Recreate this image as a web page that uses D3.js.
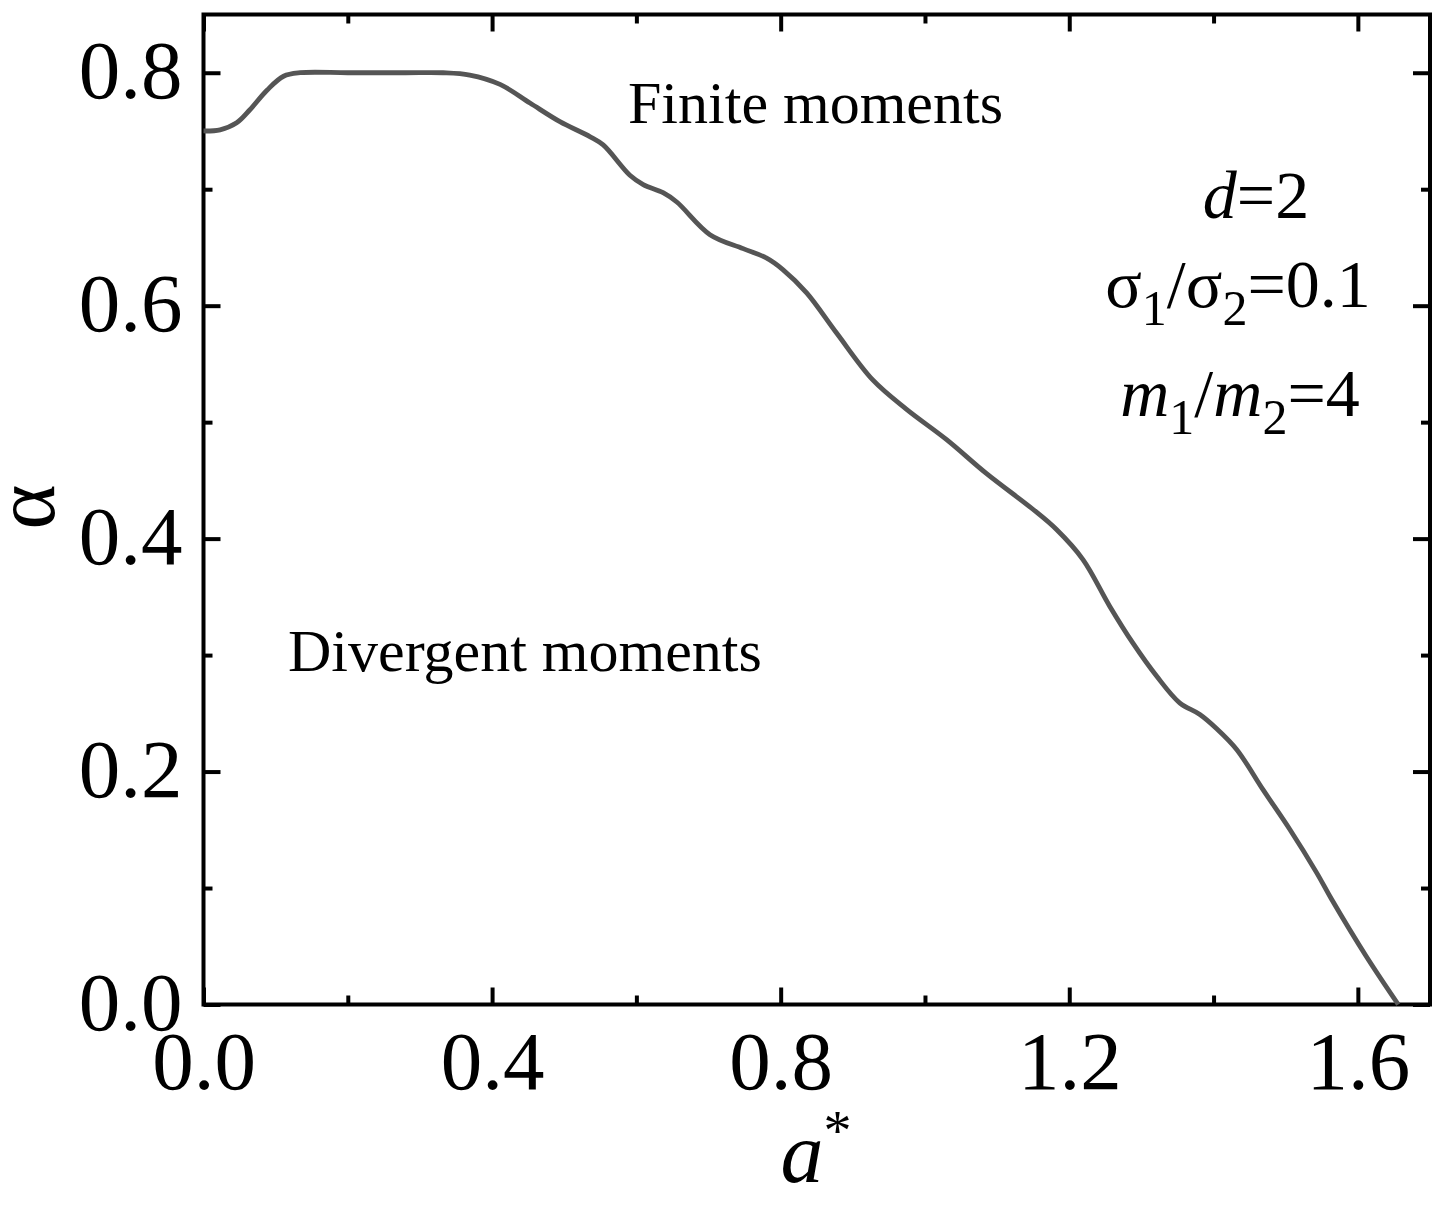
<!DOCTYPE html>
<html>
<head>
<meta charset="utf-8">
<script src="https://cdn.jsdelivr.net/npm/d3@7"></script>
<style>
  body { margin: 0; background: #fff; }
  svg { display: block; font-family: "Liberation Serif", "Times New Roman", serif; }
</style>
</head>
<body>
<svg id="chart"></svg>
<script>
// boundary curve alpha(a*)
const aStar = [0.000, 0.023, 0.046, 0.064, 0.088, 0.111, 0.134, 0.200, 0.280, 0.332,
               0.369, 0.411, 0.4525, 0.494, 0.536, 0.554, 0.591, 0.6095, 0.637, 0.656,
               0.702, 0.748, 0.780, 0.803, 0.836, 0.8775, 0.928, 0.9745, 1.030, 1.085,
               1.150, 1.182, 1.219, 1.256, 1.2885, 1.321, 1.353, 1.381, 1.404, 1.432,
               1.469, 1.506, 1.543, 1.563, 1.612, 1.656]
const alpha = [0.750, 0.751, 0.757, 0.768, 0.785, 0.797, 0.800, 0.800, 0.800, 0.800,
               0.798, 0.790, 0.774, 0.758, 0.745, 0.738, 0.712, 0.704, 0.697, 0.689,
               0.661, 0.649, 0.641, 0.631, 0.611, 0.5765, 0.536, 0.511, 0.485, 0.456,
               0.425, 0.408, 0.382, 0.342, 0.310, 0.282, 0.259, 0.249, 0.237, 0.219,
               0.184, 0.150, 0.113, 0.091, 0.041, 0.000]

const xMajor = [0, 0.4, 0.8, 1.2, 1.6]
const xMinor = [0.2, 0.6, 1.0, 1.4]
const yMajor = [0, 0.2, 0.4, 0.6, 0.8]
const yMinor = [0.1, 0.3, 0.5, 0.7]

const W = 1446, H = 1209
const pLeft = 203.5, pRight = 1430, pTop = 14.5, pBottom = 1004.5

const svg = d3.select("#chart").attr("width", W).attr("height", H)

const x = d3.scaleLinear().domain([0, 1.7]).range([pLeft, pRight])
const y = d3.scaleLinear().domain([0, 0.85]).range([pBottom, pTop])

const fmt = d3.format(".1f")

function tickStyle(g, size){
  g.select(".domain").remove()
  g.selectAll(".tick line").attr("stroke", "#000").attr("stroke-width", 4)
  g.selectAll(".tick text").attr("fill", "#000").style("font-size", size + "px")
     .style("font-family", "Liberation Serif")
}

// bottom axis with labels
svg.append("g").attr("transform", `translate(0,${pBottom})`)
  .call(d3.axisBottom(x).tickValues(xMajor).tickSize(-17).tickFormat(fmt).tickPadding(0))
  .call(g => tickStyle(g, 83))
  .call(g => g.selectAll(".tick text").attr("y", 84).attr("dy", 0))
svg.append("g").attr("transform", `translate(0,${pBottom})`)
  .call(d3.axisBottom(x).tickValues(xMinor).tickSize(-9).tickFormat(""))
  .call(g => tickStyle(g, 83))

// top axis, ticks only
svg.append("g").attr("transform", `translate(0,${pTop})`)
  .call(d3.axisTop(x).tickValues(xMajor).tickSize(-17).tickFormat(""))
  .call(g => tickStyle(g, 83))
svg.append("g").attr("transform", `translate(0,${pTop})`)
  .call(d3.axisTop(x).tickValues(xMinor).tickSize(-9).tickFormat(""))
  .call(g => tickStyle(g, 83))

// left axis with labels
svg.append("g").attr("transform", `translate(${pLeft},0)`)
  .call(d3.axisLeft(y).tickValues(yMajor).tickSize(-17).tickFormat(fmt).tickPadding(0))
  .call(g => tickStyle(g, 83))
  .call(g => g.selectAll(".tick text").attr("x", -21).attr("dy", "0.3em"))
svg.append("g").attr("transform", `translate(${pLeft},0)`)
  .call(d3.axisLeft(y).tickValues(yMinor).tickSize(-9).tickFormat(""))
  .call(g => tickStyle(g, 83))

// right axis, ticks only
svg.append("g").attr("transform", `translate(${pRight},0)`)
  .call(d3.axisRight(y).tickValues(yMajor).tickSize(-17).tickFormat(""))
  .call(g => tickStyle(g, 83))
svg.append("g").attr("transform", `translate(${pRight},0)`)
  .call(d3.axisRight(y).tickValues(yMinor).tickSize(-9).tickFormat(""))
  .call(g => tickStyle(g, 83))

// frame
svg.append("rect")
  .attr("x", pLeft).attr("y", pTop)
  .attr("width", pRight - pLeft).attr("height", pBottom - pTop)
  .attr("fill", "none").attr("stroke", "#000").attr("stroke-width", 4)

// curve
const pts = aStar.map((a, i) => [a, alpha[i]])
const line = d3.line().x(d => x(d[0])).y(d => y(d[1])).curve(d3.curveCatmullRom.alpha(0.5))
svg.append("path").datum(pts)
  .attr("d", line)
  .attr("fill", "none")
  .attr("stroke", "#555")
  .attr("stroke-width", 4.8)

// axis titles
const xt = svg.append("text").attr("x", 816).attr("y", 1182)
  .attr("text-anchor", "middle").style("font-size", "86px")
xt.append("tspan").style("font-style", "italic").text("a")
xt.append("tspan").attr("dy", -32).style("font-size", "56px").text("*")

svg.append("text")
  .attr("transform", "translate(54,507) rotate(-90)")
  .attr("text-anchor", "middle")
  .style("font-size", "86px")
  .text("α")

// region labels
svg.append("text").attr("x", 628).attr("y", 123).style("font-size", "60px").text("Finite moments")
svg.append("text").attr("x", 288).attr("y", 671).style("font-size", "60px").text("Divergent moments")

// parameters
const p1 = svg.append("text").attr("x", 1256).attr("y", 218).attr("text-anchor", "middle").style("font-size", "68px")
p1.append("tspan").style("font-style", "italic").text("d")
p1.append("tspan").text("=2")

const p2 = svg.append("text").attr("x", 1238).attr("y", 307).attr("text-anchor", "middle").style("font-size", "68px")
p2.append("tspan").text("σ")
p2.append("tspan").attr("dy", 18).style("font-size", "50px").text("1")
p2.append("tspan").attr("dy", -18).text("/σ")
p2.append("tspan").attr("dy", 18).style("font-size", "50px").text("2")
p2.append("tspan").attr("dy", -18).text("=0.1")

const p3 = svg.append("text").attr("x", 1240).attr("y", 416).attr("text-anchor", "middle").style("font-size", "68px")
p3.append("tspan").style("font-style", "italic").text("m")
p3.append("tspan").attr("dy", 18).style("font-size", "50px").text("1")
p3.append("tspan").attr("dy", -18).text("/")
p3.append("tspan").style("font-style", "italic").text("m")
p3.append("tspan").attr("dy", 18).style("font-size", "50px").text("2")
p3.append("tspan").attr("dy", -18).text("=4")
</script>
</body>
</html>
